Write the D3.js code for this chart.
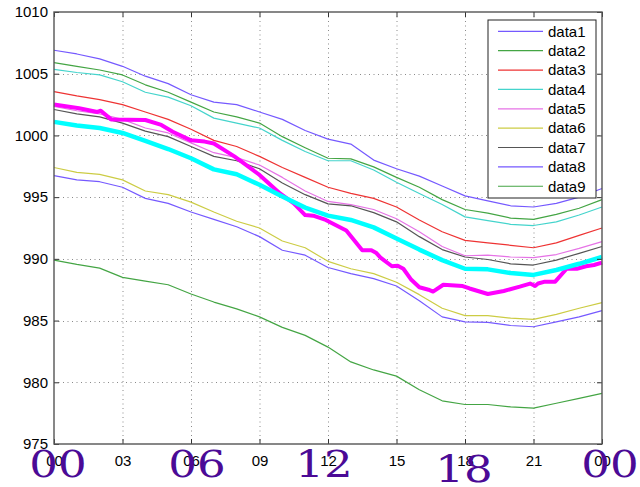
<!DOCTYPE html>
<html>
<head>
<meta charset="utf-8">
<script src="https://cdn.jsdelivr.net/npm/d3@7"></script>
<style>
  html, body { margin: 0; padding: 0; background: #fff; }
  svg { display: block; }
  .tick text { font-family: "Liberation Sans", Arial, sans-serif; font-size: 15px; fill: #000; }
</style>
</head>
<body>
<svg id="chart" width="640" height="487"></svg>
<script>
// Hourly time axis (hours since 00)
const hours = d3.range(0, 25);

// Sea-level pressure traces (hPa), one value per hour
const data1 = [1006.9,1006.6,1006.2,1005.6,1004.8,1004.2,1003.3,1002.7,1002.5,1001.9,1001.3,1000.4,999.7,999.3,998.0,997.3,996.7,995.9,995.1,994.7,994.3,994.2,994.5,995.0,995.7];
const data2 = [1005.9,1005.6,1005.3,1004.9,1004.1,1003.5,1002.7,1001.9,1001.5,1001.0,999.9,999.0,998.15,998.1,997.45,996.6,995.8,994.8,994.0,993.7,993.3,993.2,993.6,994.1,994.8];
const data3 = [1003.55,1003.2,1002.9,1002.5,1001.9,1001.3,1000.5,999.6,999.1,998.3,997.4,996.6,995.8,995.3,994.9,994.2,993.15,992.2,991.5,991.3,991.1,990.9,991.3,991.9,992.5];
const data4 = [1005.35,1005.1,1004.9,1004.35,1003.5,1003.1,1002.4,1001.4,1001.0,1000.6,999.6,998.7,997.95,997.95,997.2,996.2,995.3,994.4,993.4,993.1,992.8,992.7,993.0,993.55,994.2];
const data5 = [1002.35,1002.0,1001.75,1001.3,1000.6,1000.2,999.4,998.6,998.2,997.6,996.6,995.5,994.65,994.4,994.0,993.25,992.2,991.0,990.25,990.3,990.15,990.1,990.35,990.85,991.4];
const data6 = [997.4,997.0,996.85,996.4,995.5,995.2,994.6,993.8,993.05,992.5,991.45,990.9,989.8,989.2,988.8,988.1,987.1,986.0,985.4,985.4,985.2,985.1,985.5,986.0,986.45];
const data7 = [1002.1,1001.75,1001.5,1001.0,1000.35,999.9,999.1,998.3,997.95,997.3,996.15,995.2,994.45,994.3,993.75,993.0,991.8,990.75,990.15,989.95,989.6,989.5,989.9,990.45,991.0];
const data8 = [996.75,996.4,996.25,995.8,994.9,994.5,993.8,993.2,992.6,991.8,990.7,990.3,989.3,988.8,988.4,987.8,986.6,985.3,984.9,984.85,984.6,984.5,984.9,985.3,985.8];
const data9 = [989.9,989.55,989.25,988.5,988.2,987.9,987.15,986.5,985.95,985.3,984.45,983.8,982.85,981.65,981.0,980.5,979.4,978.5,978.2,978.2,978.0,977.9,978.3,978.7,979.1];

// Ensemble mean (thick cyan), hourly
const meanTrace = [1001.1,1000.8,1000.6,1000.2,999.55,998.9,998.15,997.25,996.85,996.0,995.05,994.15,993.5,993.15,992.55,991.65,990.75,989.9,989.2,989.15,988.85,988.7,989.1,989.6,990.15];

// Observed trace (thick magenta), irregular times
const obsHours = [0,1.1,1.9,2.05,2.5,4.0,4.7,5.2,6.0,6.6,7.0,7.9,9.0,9.9,10.5,11.0,11.35,11.9,12.8,13.5,13.9,14.1,14.3,14.8,15.05,15.3,15.65,16.0,16.4,16.6,17.05,17.9,18.2,19.0,19.7,20.4,20.85,21.07,21.2,21.5,21.95,22.45,22.9,23.3,23.65,24];
const obsTrace = [1002.5,1002.2,1001.9,1002.0,1001.3,1001.25,1000.85,1000.3,999.6,999.5,999.35,998.3,996.8,995.3,994.5,993.55,993.5,993.15,992.3,990.7,990.7,990.5,990.1,989.4,989.45,989.2,988.3,987.7,987.5,987.35,987.9,987.8,987.6,987.15,987.4,987.75,988.0,987.8,988.0,988.15,988.15,989.2,989.2,989.4,989.5,989.7];

// Axis labels
const seriesNames = ["data1","data2","data3","data4","data5","data6","data7","data8","data9"];
const xTickHours = [0,3,6,9,12,15,18,21,24];
const xTickLabels = ["00","03","06","09","12","15","18","21","00"];
const yTicks = [975,980,985,990,995,1000,1005,1010];
const bigHours = [0,6,12,18,24];
const bigLabels = ["00","06","12","18","00"];

const series = [data1,data2,data3,data4,data5,data6,data7,data8,data9];
const colors = ["#7559ff","#44a544","#ee3333","#44d4cc","#e673e6","#cccc44","#555555","#7559ff","#44a544"];

const svg = d3.select("#chart");
const m = { left: 54, right: 602, top: 12, bottom: 444 };

const x = d3.scaleLinear().domain([0, 24]).range([m.left, m.right]);
const y = d3.scaleLinear().domain([975, 1010]).range([m.bottom, m.top]);

// Dotted grid
const grid = svg.append("g").attr("stroke", "#8a8a8a").attr("stroke-width", 1).attr("stroke-dasharray", "1,3.5");
grid.selectAll("line.v").data(xTickHours.slice(1, -1)).join("line")
  .attr("x1", d => x(d) + 0.5).attr("x2", d => x(d) + 0.5)
  .attr("y1", m.top).attr("y2", m.bottom);
grid.selectAll("line.h").data(yTicks.slice(1, -1)).join("line")
  .attr("y1", d => Math.round(y(d)) + 0.5).attr("y2", d => Math.round(y(d)) + 0.5)
  .attr("x1", m.left).attr("x2", m.right);

// Traces
const line = d3.line().x((d, i) => x(hours[i])).y(d => y(d));
const plot = svg.append("g").attr("fill", "none");
series.forEach((s, i) => {
  plot.append("path").datum(s).attr("d", line)
    .attr("stroke", colors[i]).attr("stroke-width", 1.2).attr("stroke-linejoin", "round");
});
plot.append("path").datum(obsTrace)
  .attr("d", d3.line().x((d, i) => x(obsHours[i])).y(d => y(d)))
  .attr("stroke", "#ff00ff").attr("stroke-width", 4).attr("stroke-linejoin", "round");
plot.append("path").datum(meanTrace).attr("d", line)
  .attr("stroke", "#00ffff").attr("stroke-width", 4.5).attr("stroke-linejoin", "round");

// Axes with inward ticks on all four sides
const xAxis = d3.axisBottom(x).tickValues(xTickHours).tickFormat((d, i) => xTickLabels[i]).tickSizeInner(-5).tickSizeOuter(0).tickPadding(11);
const yAxis = d3.axisLeft(y).tickValues(yTicks).tickFormat(d3.format("d")).tickSizeInner(-5).tickSizeOuter(0).tickPadding(6);

const gx = svg.append("g").attr("transform", `translate(0,${m.bottom})`).call(xAxis);
const gy = svg.append("g").attr("transform", `translate(${m.left},0)`).call(yAxis);
const gxTop = svg.append("g").attr("transform", `translate(0,${m.top})`)
  .call(d3.axisTop(x).tickValues(xTickHours).tickSizeInner(-5).tickSizeOuter(0).tickFormat(""));
const gyRight = svg.append("g").attr("transform", `translate(${m.right},0)`)
  .call(d3.axisRight(y).tickValues(yTicks).tickSizeInner(-5).tickSizeOuter(0).tickFormat(""));
[gx, gy, gxTop, gyRight].forEach(g => {
  g.select(".domain").remove();
  g.selectAll(".tick line").attr("stroke", "#333");
});
gy.selectAll(".tick text").attr("dy", "0.32em");

// Frame
svg.append("rect")
  .attr("x", m.left).attr("y", m.top)
  .attr("width", m.right - m.left).attr("height", m.bottom - m.top)
  .attr("fill", "none").attr("stroke", "#555").attr("stroke-width", 1.4);

// Legend
const lg = svg.append("g").attr("transform", "translate(488,20)");
lg.append("rect").attr("width", 108).attr("height", 178)
  .attr("fill", "#fff").attr("stroke", "#222").attr("stroke-width", 1);
seriesNames.forEach((name, i) => {
  const cy = 11.3 + i * 19.37;
  lg.append("line").attr("x1", 10).attr("x2", 55).attr("y1", cy).attr("y2", cy)
    .attr("stroke", colors[i]).attr("stroke-width", 1.2);
  lg.append("text").attr("x", 60).attr("y", cy).attr("dy", "0.35em")
    .attr("font-family", "Liberation Sans, Arial, sans-serif").attr("font-size", 15)
    .attr("fill", "#000").text(name);
});

// Large synoptic-hour labels, slightly widened serif digits
const bigShift = { 0: 4, 6: 6, 12: -4, 18: -1, 24: 8 };
svg.append("g").selectAll("text").data(bigHours).join("text")
  .attr("transform", d => `translate(${x(d) + bigShift[d]},${d === 18 ? 482 : 477}) scale(1.22,1)`)
  .attr("text-anchor", "middle")
  .attr("font-family", "DejaVu Serif, serif")
  .attr("font-size", 37)
  .attr("fill", "#4b0a96")
  .text((d, i) => bigLabels[i]);
</script>
</body>
</html>
